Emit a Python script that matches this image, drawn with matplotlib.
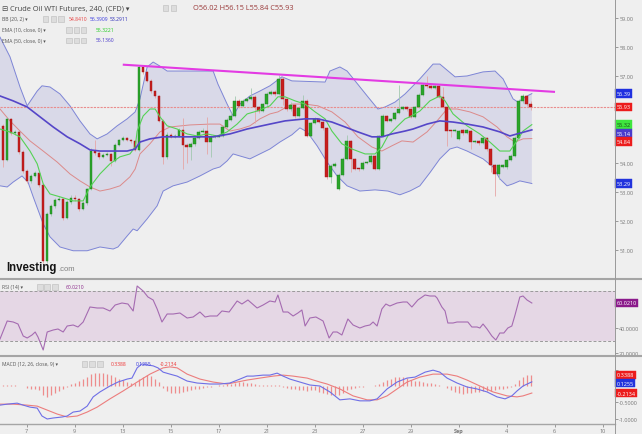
import numpy as np
import matplotlib
matplotlib.use("Agg")
import matplotlib.pyplot as plt
from matplotlib.patches import Rectangle
from matplotlib.lines import Line2D
from matplotlib import transforms

plt.rcParams['font.family'] = ['Open Sans', 'DejaVu Sans']

W, H = 642, 435

# ---- 240 min candles ----
opens = [55.28, 54.10, 55.52, 55.03, 55.07, 54.38, 53.72, 53.38, 53.55, 53.66,
         53.24, 50.62, 52.24, 52.52, 52.72, 52.76, 52.10, 52.66, 52.79, 52.76,
         52.41, 52.62, 53.10, 54.41, 54.34, 54.21, 54.28, 54.31, 54.07, 54.62,
         54.79, 54.86, 54.79, 54.76, 54.45, 57.31, 57.14, 56.83, 56.48, 56.31,
         55.45, 54.21, 54.97, 54.90, 54.93, 55.14, 54.62, 54.55, 54.66, 54.86,
         55.07, 55.10, 54.72, 54.90, 54.90, 54.93, 55.24, 55.48, 55.62, 56.14,
         55.97, 56.14, 56.21, 56.28, 55.93, 55.79, 56.03, 56.38, 56.45, 56.38,
         56.90, 56.21, 55.86, 56.00, 55.62, 55.90, 56.14, 54.93, 55.38, 55.52,
         55.41, 55.21, 53.52, 53.90, 53.10, 53.59, 54.14, 54.76, 54.14, 53.79,
         53.79, 54.00, 54.03, 54.24, 53.79, 54.93, 55.62, 55.45, 55.52, 55.72,
         55.86, 55.93, 55.86, 55.59, 55.93, 56.35, 56.69, 56.66, 56.59, 56.66,
         56.28, 55.93, 55.10, 55.09, 54.83, 55.14, 55.03, 55.10, 54.72, 54.76,
         54.69, 54.86, 54.48, 53.93, 53.62, 53.86, 53.86, 54.10, 54.24, 54.86,
         56.14, 56.31, 56.02]
closes = [54.10, 55.52, 55.03, 55.07, 54.38, 53.72, 53.38, 53.55, 53.66, 53.24,
          50.62, 52.24, 52.52, 52.72, 52.76, 52.10, 52.66, 52.79, 52.76, 52.41,
          52.62, 53.10, 54.41, 54.34, 54.21, 54.28, 54.31, 54.07, 54.62, 54.79,
          54.86, 54.79, 54.76, 54.45, 57.31, 57.14, 56.83, 56.48, 56.31, 55.45,
          54.21, 54.97, 54.90, 54.93, 55.14, 54.62, 54.55, 54.66, 54.86, 55.07,
          55.10, 54.72, 54.90, 54.92, 54.93, 55.24, 55.48, 55.62, 56.14, 55.97,
          56.14, 56.21, 56.28, 55.93, 55.79, 56.03, 56.38, 56.45, 56.38, 56.90,
          56.21, 55.86, 56.00, 55.62, 55.90, 56.14, 54.93, 55.38, 55.52, 55.41,
          55.21, 53.52, 53.90, 53.97, 53.59, 54.14, 54.76, 54.14, 53.79, 53.78,
          54.00, 54.03, 54.24, 53.79, 54.93, 55.62, 55.45, 55.52, 55.72, 55.86,
          55.93, 55.86, 55.59, 55.93, 56.35, 56.69, 56.66, 56.59, 56.66, 56.28,
          55.93, 55.10, 55.09, 55.14, 55.10, 55.03, 55.14, 54.72, 54.76, 54.69,
          54.86, 54.48, 53.93, 53.62, 53.93, 53.93, 54.10, 54.24, 54.86, 56.14,
          56.31, 56.02, 55.93]
highs = [55.35, 55.60, 55.55, 55.15, 55.10, 54.45, 53.78, 53.62, 53.72, 53.70,
         53.30, 52.30, 52.58, 52.80, 52.85, 52.80, 52.72, 52.90, 52.88, 52.80,
         52.68, 53.15, 54.50, 54.80, 54.40, 54.33, 54.36, 54.35, 54.68, 54.84,
         54.92, 54.90, 54.84, 54.80, 57.38, 57.36, 57.18, 56.88, 56.52, 56.36,
         55.50, 55.05, 55.02, 55.00, 55.22, 55.55, 54.68, 54.72, 54.92, 55.12,
         55.20, 55.60, 54.95, 54.95, 54.98, 55.30, 55.55, 55.75, 56.30, 56.20,
         56.20, 56.26, 56.60, 56.35, 55.98, 56.08, 56.44, 56.52, 56.52, 57.03,
         56.95, 56.25, 56.10, 56.05, 55.95, 56.35, 56.20, 55.42, 55.58, 55.55,
         55.45, 55.25, 53.95, 54.02, 53.64, 54.20, 54.95, 54.80, 54.18, 53.84,
         54.05, 54.08, 54.30, 54.28, 54.98, 55.68, 55.66, 55.56, 55.76, 56.70,
         55.98, 55.98, 55.90, 55.98, 56.40, 56.76, 57.00, 56.70, 56.70, 56.70,
         56.62, 55.98, 55.14, 55.18, 55.15, 55.18, 55.18, 55.14, 54.80, 54.80,
         54.92, 54.90, 54.52, 53.98, 53.98, 53.98, 54.15, 54.30, 54.92, 56.20,
         56.38, 56.33, 56.15]
lows = [53.86, 54.05, 54.95, 54.98, 54.30, 53.65, 53.30, 53.30, 53.50, 53.18,
        50.55, 50.55, 52.18, 52.45, 52.68, 52.03, 52.05, 52.60, 52.70, 52.35,
        52.36, 52.55, 53.05, 54.28, 54.15, 54.17, 54.25, 53.90, 54.02, 54.58,
        54.76, 54.74, 54.70, 54.40, 54.40, 57.08, 56.78, 56.42, 56.25, 55.40,
        53.95, 54.15, 54.85, 54.86, 54.88, 53.79, 54.00, 54.10, 54.60, 54.82,
        55.02, 54.31, 54.20, 54.86, 54.88, 54.90, 55.20, 55.45, 55.58, 55.90,
        55.92, 56.10, 56.18, 55.38, 55.72, 55.75, 55.98, 56.33, 56.32, 56.34,
        56.00, 55.80, 55.80, 55.55, 55.57, 55.85, 54.88, 54.88, 55.33, 55.36,
        55.15, 53.45, 53.30, 53.85, 53.05, 53.55, 54.10, 53.70, 53.74, 53.72,
        53.75, 53.98, 53.98, 53.75, 53.74, 54.88, 55.40, 55.42, 55.48, 55.68,
        55.82, 55.80, 55.55, 55.55, 55.88, 56.30, 56.60, 56.55, 56.55, 56.24,
        55.88, 54.59, 54.90, 55.05, 54.78, 54.98, 55.00, 54.48, 54.70, 54.62,
        54.64, 54.42, 53.70, 52.86, 53.45, 53.82, 53.80, 54.05, 54.20, 54.80,
        56.08, 55.98, 55.84]

# ---- indicator lines, read at bar positions ----
bbu_pos = [-0.7, 1.8, 4.3, 6.1, 8.6, 9.8, 11.8, 14.3, 16.8, 19.3,
           21.8, 23.6, 26.1, 28.6, 31.1, 33.1, 34.3, 36.1, 37.6, 39.3,
           41.1, 44.3, 52.6, 53.8, 56.1, 57.6, 59.3, 61.8, 64.3, 66.8,
           69.8, 72.3, 80.6, 81.8, 84.3, 86.1, 88.1, 91.3, 93.8, 95.6,
           98.1, 100.6, 104.3, 107.6, 109.3, 113.1, 116.1, 120.1, 123.1, 125.1,
           127.6, 128.8, 131.1, 132.3]
bbu_val = [58.34, 57.66, 56.62, 55.97, 56.48, 56.66, 56.62, 56.38, 55.97, 55.45,
           55.00, 54.83, 55.00, 55.28, 55.52, 55.76, 56.21, 57.31, 57.48, 57.34,
           57.17, 57.17, 57.17, 56.72, 56.03, 55.62, 56.03, 56.31, 56.48, 56.66,
           56.97, 56.83, 56.79, 57.17, 57.31, 57.17, 56.83, 56.28, 55.86, 55.93,
           56.10, 56.38, 56.90, 57.41, 57.41, 56.97, 57.00, 57.14, 57.17, 56.90,
           56.21, 56.10, 56.31, 56.39]
bbl_pos = [-0.7, 1.1, 2.6, 4.8, 6.3, 7.6, 10.1, 11.8, 14.3, 17.6,
           21.1, 24.3, 27.6, 28.8, 31.1, 32.6, 33.6, 36.1, 38.6, 40.1,
           42.6, 46.1, 49.3, 52.6, 54.3, 56.1, 57.6, 59.3, 61.8, 64.3,
           66.8, 69.3, 72.3, 74.3, 76.1, 78.6, 81.1, 83.6, 86.1, 89.3,
           93.1, 96.3, 99.3, 101.8, 104.3, 106.8, 109.3, 111.8, 113.6, 116.1,
           120.1, 122.6, 124.3, 126.1, 127.6, 129.3, 132.3]
bbl_val = [53.21, 53.17, 53.34, 53.55, 53.34, 52.83, 51.90, 51.45, 51.10, 50.97,
           50.97, 51.10, 51.03, 51.10, 51.48, 51.72, 51.66, 52.07, 52.52, 53.03,
           53.21, 53.34, 53.55, 53.79, 53.86, 54.07, 54.31, 54.24, 54.14, 54.31,
           54.48, 54.72, 54.97, 55.21, 55.07, 54.59, 54.03, 53.55, 53.21, 53.03,
           53.07, 53.03, 52.90, 53.03, 53.21, 53.66, 54.14, 54.48, 54.55, 54.41,
           54.14, 53.86, 53.45, 53.21, 53.28, 53.38, 53.29]
bbm_pos = [-0.7, 1.8, 4.3, 6.8, 10.1, 13.6, 16.8, 19.3, 21.8, 24.3,
           26.8, 29.3, 31.8, 33.1, 34.3, 36.8, 39.3, 41.8, 46.8, 51.8,
           54.3, 56.8, 59.3, 61.8, 64.3, 66.8, 68.8, 72.3, 75.6, 78.8,
           82.3, 85.6, 88.8, 92.3, 94.8, 97.3, 99.8, 102.6, 106.1, 108.6,
           111.1, 113.6, 116.8, 120.1, 123.6, 126.1, 128.1, 130.1, 132.3]
bbm_val = [55.86, 55.45, 55.10, 54.76, 54.41, 54.03, 53.62, 53.38, 53.17, 53.03,
           53.10, 53.21, 53.52, 53.79, 54.31, 54.66, 55.07, 55.24, 55.31, 55.34,
           55.34, 55.10, 55.17, 55.28, 55.52, 55.69, 55.76, 56.03, 56.03, 55.97,
           55.76, 55.41, 54.90, 54.55, 54.41, 54.59, 54.76, 54.72, 55.07, 55.45,
           55.86, 55.86, 55.76, 55.59, 55.24, 54.90, 54.72, 54.83, 54.84]
ema10_pos = [-0.7, 1.8, 4.3, 6.8, 8.6, 10.1, 11.8, 14.3, 17.6, 20.1,
             21.8, 24.3, 26.8, 29.3, 31.8, 33.1, 33.6, 35.1, 36.8, 38.1,
             39.3, 41.1, 43.6, 46.1, 48.6, 51.1, 53.6, 56.1, 58.6, 61.1,
             63.6, 66.8, 68.8, 70.6, 73.1, 75.6, 78.1, 80.6, 82.3, 84.8,
             87.3, 90.6, 93.1, 94.8, 96.3, 98.8, 100.6, 101.8, 104.3, 106.8,
             109.3, 110.6, 112.6, 116.1, 119.3, 121.8, 124.3, 126.8, 128.6, 130.1,
             132.3]
ema10_val = [55.17, 55.07, 54.90, 54.41, 53.97, 53.28, 52.93, 52.83, 52.69, 52.69,
             53.17, 53.62, 53.97, 54.21, 54.31, 54.55, 55.10, 55.62, 55.86, 55.86,
             55.59, 55.28, 55.17, 55.00, 54.93, 55.00, 54.93, 55.07, 55.34, 55.69,
             55.79, 55.97, 56.28, 56.28, 56.14, 56.03, 55.76, 55.52, 55.10, 54.66,
             54.48, 54.31, 54.31, 54.55, 54.93, 55.28, 55.52, 55.59, 55.79, 56.14,
             56.31, 56.14, 55.69, 55.28, 55.00, 54.72, 54.41, 54.41, 54.76, 55.10,
             55.32]
ema50_pos = [-0.7, 2.6, 6.1, 9.3, 12.6, 16.1, 19.3, 21.8, 24.3, 27.6,
             31.1, 33.1, 34.3, 36.8, 40.1, 44.3, 52.6, 56.8, 61.1, 66.8,
             70.6, 75.6, 78.8, 82.3, 85.6, 88.8, 92.3, 94.8, 97.3, 100.6,
             102.6, 106.1, 109.3, 112.6, 116.1, 120.1, 124.3, 126.8, 128.6, 132.3]
ema50_val = [56.31, 56.14, 55.93, 55.59, 55.24, 54.90, 54.66, 54.45, 54.41, 54.41,
             54.41, 54.48, 54.72, 54.83, 54.90, 54.90, 54.90, 55.00, 55.17, 55.34,
             55.45, 55.52, 55.52, 55.41, 55.24, 55.07, 54.90, 54.90, 55.00, 55.10,
             55.17, 55.34, 55.45, 55.41, 55.34, 55.24, 55.07, 54.93, 55.00, 55.14]
trend_pos = [30.0, 138.1]
trend_val = [57.39, 56.45]

rsi_pos = [-0.7, 1.1, 2.6, 3.8, 5.1, 6.1, 7.3, 8.1, 8.8, 10.1,
           11.1, 12.6, 13.8, 15.1, 16.1, 17.6, 18.8, 20.1, 21.8, 23.6,
           25.1, 26.8, 28.1, 29.8, 31.3, 32.6, 33.6, 35.1, 36.3, 37.6,
           38.6, 39.8, 41.1, 42.6, 44.3, 46.1, 47.6, 49.3, 50.6, 51.8,
           53.6, 54.8, 56.6, 58.6, 59.8, 61.3, 63.6, 65.1, 66.8, 68.1,
           68.8, 70.1, 71.3, 72.6, 73.8, 74.8, 75.6, 76.8, 78.3, 80.1,
           81.6, 82.6, 83.6, 84.8, 86.3, 87.6, 89.3, 90.6, 91.8, 92.6,
           93.6, 94.8, 95.8, 96.8, 98.6, 100.1, 101.1, 102.3, 103.8, 105.6,
           106.8, 108.1, 108.6, 109.8, 110.6, 111.3, 112.6, 113.6, 115.1, 116.3,
           117.3, 118.6, 119.3, 120.1, 121.1, 122.3, 123.3, 124.3, 125.3, 126.3,
           127.3, 128.1, 129.3, 130.1, 131.1, 132.3]
rsi_val = [31.2, 45.6, 44.8, 43.2, 33.6, 32.0, 34.4, 36.8, 32.8, 22.4,
           36.8, 38.4, 39.2, 36.8, 41.6, 42.4, 40.8, 44.8, 56.8, 56.0,
           56.0, 53.6, 58.4, 60.0, 59.2, 53.6, 73.6, 69.6, 64.8, 62.4,
           55.2, 44.8, 51.2, 51.2, 52.0, 48.0, 48.8, 52.8, 48.8, 49.6,
           49.6, 53.6, 52.8, 61.6, 59.2, 62.4, 56.0, 58.4, 61.6, 60.8,
           66.4, 52.8, 52.8, 49.6, 52.0, 54.4, 41.6, 48.0, 48.8, 45.6,
           32.0, 36.8, 36.8, 34.4, 47.2, 42.4, 40.0, 41.6, 42.4, 44.8,
           41.6, 55.2, 59.2, 57.6, 60.0, 60.8, 60.8, 56.8, 62.4, 66.4,
           65.6, 65.6, 64.0, 56.8, 53.6, 44.0, 44.0, 44.8, 44.8, 44.8,
           40.8, 40.8, 40.0, 43.2, 39.2, 33.6, 30.4, 36.0, 36.0, 40.0,
           41.6, 50.4, 64.8, 65.6, 62.4, 60.0]

macd_pos = [-0.7, 1.1, 3.6, 5.1, 6.8, 8.6, 9.8, 11.1, 12.6, 14.8,
            16.1, 17.6, 19.3, 21.1, 22.6, 24.3, 26.8, 28.8, 31.1, 32.3,
            33.6, 34.8, 36.1, 37.6, 38.8, 40.1, 41.8, 43.6, 46.1, 48.6,
            51.8, 54.3, 56.8, 59.3, 61.1, 62.6, 65.1, 66.8, 68.6, 70.1,
            71.8, 74.3, 76.8, 79.3, 81.8, 84.3, 86.8, 89.3, 91.8, 93.6,
            96.1, 98.6, 101.1, 103.1, 105.6, 107.6, 109.3, 111.1, 113.6, 116.1,
            118.6, 121.1, 123.6, 125.6, 127.3, 128.6, 130.1, 132.3]
macd_val = [-0.58, -0.55, -0.52, -0.58, -0.64, -0.67, -0.91, -1.00, -0.97, -0.94,
            -0.91, -0.79, -0.76, -0.61, -0.33, -0.18, 0.00, 0.12, 0.21, 0.24,
            0.55, 0.67, 0.64, 0.61, 0.55, 0.42, 0.36, 0.30, 0.15, 0.09,
            0.06, 0.06, 0.09, 0.21, 0.30, 0.30, 0.33, 0.33, 0.39, 0.30,
            0.21, 0.12, 0.03, 0.00, -0.18, -0.42, -0.39, -0.45, -0.45, -0.39,
            -0.09, 0.12, 0.24, 0.27, 0.42, 0.48, 0.42, 0.24, 0.09, -0.03,
            -0.09, -0.18, -0.33, -0.39, -0.30, -0.15, 0.00, 0.1255]
sig_pos = [-0.7, 2.6, 6.1, 8.6, 11.1, 13.6, 16.1, 18.6, 21.1, 23.6,
           26.8, 30.1, 33.6, 36.8, 40.1, 41.8, 43.6, 46.1, 49.3, 52.6,
           56.1, 58.6, 61.1, 64.3, 67.6, 70.1, 72.6, 76.1, 79.3, 81.1,
           84.3, 87.6, 91.1, 93.6, 96.1, 98.6, 101.1, 104.3, 107.6, 111.1,
           113.6, 116.1, 119.3, 122.6, 126.1, 128.6, 130.1, 132.3]
sig_val = [-0.55, -0.55, -0.58, -0.61, -0.73, -0.85, -0.94, -0.91, -0.79, -0.64,
           -0.39, -0.15, 0.12, 0.36, 0.55, 0.58, 0.55, 0.36, 0.21, 0.12,
           0.06, 0.12, 0.18, 0.24, 0.30, 0.33, 0.30, 0.24, 0.12, 0.06,
           -0.09, -0.30, -0.42, -0.42, -0.30, -0.09, 0.12, 0.27, 0.36, 0.36,
           0.30, 0.18, 0.00, -0.18, -0.30, -0.33, -0.30, -0.2134]
hist = [0.02, 0.02, 0.02, 0.02, 0.01, 0.00, -0.05, -0.08, -0.10, -0.12,
        -0.28, -0.33, -0.28, -0.20, -0.14, -0.08, -0.03, 0.05, 0.10, 0.15,
        0.20, 0.27, 0.35, 0.38, 0.40, 0.38, 0.36, 0.32, 0.28, 0.22,
        0.18, 0.12, 0.10, 0.08, 0.20, 0.28, 0.34, 0.30, 0.22, 0.12,
        -0.05, -0.15, -0.22, -0.22, -0.20, -0.18, -0.16, -0.13, -0.10, -0.08,
        -0.05, -0.04, -0.02, 0.01, 0.02, 0.03, 0.05, 0.07, 0.10, 0.12,
        0.12, 0.10, 0.08, 0.06, 0.04, 0.03, 0.03, 0.03, 0.02, 0.03,
        -0.04, -0.06, -0.08, -0.10, -0.12, -0.12, -0.14, -0.12, -0.12, -0.18,
        -0.20, -0.25, -0.28, -0.28, -0.26, -0.20, -0.12, -0.08, -0.05, -0.04,
        -0.02, -0.01, 0.01, 0.02, 0.05, 0.12, 0.18, 0.22, 0.26, 0.28,
        0.27, 0.24, 0.18, 0.15, 0.14, 0.12, 0.10, 0.08, 0.05, 0.03,
        0.00, -0.06, -0.12, -0.18, -0.22, -0.24, -0.22, -0.20, -0.18, -0.17,
        -0.16, -0.15, -0.14, -0.12, -0.10, -0.08, -0.06, -0.02, 0.05, 0.18,
        0.28, 0.32, 0.3388]

# legend readouts
bb_last = [54.8410, 56.3909, 53.2911]
ema10_last = 55.3221
ema50_last = 55.1360
rsi_last = 60.0210
macd_last = [0.3388, 0.1255, -0.2134]

date_pos = [6, 18, 30, 42, 54, 66, 78, 90, 102, 114, 126, 138, 150]
date_labels = ['7', '9', '13', '15', '17', '21', '23', '27', '29', 'Sep', '4', '6', '10']


def fx(x):
    return x / W


def fy(y):
    return 1 - y / H


bg = '#efefef'
fig = plt.figure(figsize=(W / 100, H / 100), dpi=100)
fig.patch.set_facecolor(bg)

ax = fig.add_axes([0, fy(279), fx(615), 279 / H])
ax_rsi = fig.add_axes([0, fy(356), fx(615), (356 - 281) / H])
ax_macd = fig.add_axes([0, fy(425), fx(615), (425 - 358) / H])

for a in (ax, ax_rsi, ax_macd):
    a.set_facecolor(bg)
    for s in a.spines.values():
        s.set_visible(False)
    a.set_xlim(-0.7, 153.1)
    a.yaxis.tick_right()
    a.tick_params(axis='y', labelsize=4, colors='#777777', length=2, width=0.5, pad=1)
    a.set_xticks([])

# ---- main price panel ----
ax.set_ylim(50.03, 59.655)

ax.fill(np.r_[bbu_pos, bbl_pos[::-1]], np.r_[bbu_val, bbl_val[::-1]],
        color='#d9d9e8', lw=0, zorder=1)
ax.plot(bbu_pos, bbu_val, color='#7d85d6', lw=0.7, zorder=2)
ax.plot(bbl_pos, bbl_val, color='#7d85d6', lw=0.7, zorder=2)
ax.plot(bbm_pos, bbm_val, color='#dc8a8a', lw=0.7, zorder=2)
ax.axhline(closes[-1], color='#ea8c8c', lw=0.8, ls=(0, (2, 1)), zorder=2)

o = np.array(opens)
c = np.array(closes)
idx = np.arange(len(c))
up = c >= o
ax.vlines(idx, lows, highs, colors=np.where(up, '#a3c8b0', '#e6a6a6'), lw=0.6, zorder=3)
ax.bar(idx, np.maximum(np.abs(c - o), 0.03), bottom=np.minimum(o, c), width=0.62,
       color=np.where(up, '#2aa52a', '#c81e1e'), edgecolor=np.where(up, '#1c7f1c', '#9c1414'),
       linewidth=0.3, zorder=4)

ax.plot(ema10_pos, ema10_val, color='#55d255', lw=0.8, zorder=5)
ax.plot(ema50_pos, ema50_val, color='#5546c8', lw=1.2, zorder=5)
ax.plot(trend_pos, trend_val, color='#e33be3', lw=1.5, zorder=6, solid_capstyle='butt')

# ---- RSI ----
ax_rsi.set_ylim(18.4, 78.4)
ax_rsi.axhspan(30, 70, color='#e5d7e5', lw=0, zorder=0)
for lvl in (30, 70):
    ax_rsi.axhline(lvl, color='#9a9a9a', lw=0.7, ls=(0, (3, 2)), zorder=1)
ax_rsi.plot(rsi_pos, rsi_val, color='#a56bb1', lw=0.8, zorder=3)

# ---- MACD ----
ax_macd.set_ylim(-1.152, 0.879)
ax_macd.vlines(idx, 0, hist, colors='#ee8c8c', lw=0.9, zorder=2)
ax_macd.plot(sig_pos, sig_val, color='#ec7d7d', lw=0.8, zorder=3)
ax_macd.plot(macd_pos, macd_val, color='#6e6ee6', lw=0.8, zorder=3)
ax_macd.set_xticks(date_pos)
ax_macd.set_xticklabels(date_labels)
ax_macd.tick_params(axis='x', labelsize=4, colors='#777777', length=2, width=0.5, pad=1)
for t in ax_macd.get_xticklabels():
    if t.get_text() == 'Sep':
        t.set_fontweight('bold')

# panel frame lines
fig.add_artist(Line2D([0, 1], [fy(280), fy(280)], color='#a5a5a5', lw=1.5))
fig.add_artist(Line2D([0, 1], [fy(357), fy(357)], color='#a5a5a5', lw=1.5))
fig.add_artist(Line2D([0, fx(615)], [fy(425), fy(425)], color='#a5a5a5', lw=1.0))
fig.add_artist(Line2D([fx(615), fx(615)], [0, 1], color='#999999', lw=0.7))


# price tags on the right axis, pushed down so they don't overlap
def tags(a, items, gap=8.5):
    tr = transforms.blended_transform_factory(fig.transFigure, a.transData)
    last = None
    placed = []
    for v, txt, fc, tc in sorted(items, key=lambda t: -t[0]):
        ypx = a.transData.transform((0, v))[1]
        if last is not None and last - ypx < gap:
            ypx = last - gap
        last = ypx
        placed.append(ypx)
        yv = a.transData.inverted().transform((0, ypx))[1]
        a.text(fx(616.5), yv, txt, transform=tr, ha='left', va='center', fontsize=4,
               color=tc, zorder=10, clip_on=False,
               bbox=dict(boxstyle='square,pad=0.3', fc=fc, ec=fc, lw=0.3))
    return placed


# axis numbers; the ones sitting under a tag are hidden as in the original
def yticks(a, vals, fmt, placed, clear=7):
    a.set_yticks(vals)
    labels = []
    for v in vals:
        ypx = a.transData.transform((0, v))[1]
        hidden = any(abs(ypx - p) < clear for p in placed)
        labels.append('' if hidden else fmt % v)
    a.set_yticklabels(labels)


p_main = tags(ax, [(bb_last[1], '%.2f' % bb_last[1], '#2030e0', 'white'),
                   (closes[-1], '%.2f' % closes[-1], '#ec1c1c', 'white'),
                   (ema10_last, '%.2f' % ema10_last, '#3ee63e', '#1a4a1a'),
                   (ema50_last, '%.2f' % ema50_last, '#4a3ccc', 'white'),
                   (bb_last[0], '%.2f' % bb_last[0], '#ec1c1c', 'white'),
                   (bb_last[2], '%.2f' % bb_last[2], '#2233dd', 'white')])
p_rsi = tags(ax_rsi, [(rsi_last, '%.4f' % rsi_last, '#8b1a8b', 'white')])
p_macd = tags(ax_macd, [(macd_last[0], '%.4f' % macd_last[0], '#ec1c1c', 'white'),
                        (macd_last[1], '%.4f' % macd_last[1], '#2233dd', 'white'),
                        (macd_last[2], '%.4f' % macd_last[2], '#ec1c1c', 'white')])

yticks(ax, list(range(51, 60)), '%.2f', p_main)
yticks(ax_rsi, [20, 40, 60], '%.4f', p_rsi)
yticks(ax_macd, [-1.0, -0.5, 0.0, 0.5], '%.4f', p_macd)


# ---- header / legends ----
def icons(x0, y, n):
    for k in range(n):
        fig.add_artist(Rectangle((fx(x0 + 7.5 * k), fy(y + 3)), 5.5 / W, 5.5 / H,
                                 transform=fig.transFigure, fc='#dddddd', ec='#bbbbbb', lw=0.4))


fig.text(fx(2), fy(8.5), '\u229f Crude Oil WTI Futures, 240, (CFD) \u25be',
         fontsize=5.3, color='#444444', va='center')
icons(163, 8.5, 2)
ohlc = 'O%.2f H%.2f L%.2f C%.2f' % (opens[-1], highs[-1], lows[-1], closes[-1])
fig.text(fx(193), fy(8.5), ohlc, fontsize=5.3, color='#9a3a3a', va='center')

fig.text(fx(2), fy(19.5), 'BB (20, 2) \u25be', fontsize=3.6, color='#555555', va='center')
icons(43, 19.5, 3)
for xx, v, col in zip([69, 90, 110], bb_last, ['#e84040', '#3a3ae0', '#2a2ab8']):
    fig.text(fx(xx), fy(19.5), '%.4f' % v, fontsize=3.6, color=col, va='center')

fig.text(fx(2), fy(30.5), 'EMA (10, close, 0) \u25be', fontsize=3.6, color='#555555', va='center')
icons(66, 30.5, 3)
fig.text(fx(96), fy(30.5), '%.4f' % ema10_last, fontsize=3.6, color='#22cc22', va='center')

fig.text(fx(2), fy(41), 'EMA (50, close, 0) \u25be', fontsize=3.6, color='#555555', va='center')
icons(66, 41, 3)
fig.text(fx(96), fy(41), '%.4f' % ema50_last, fontsize=3.6, color='#4a3acc', va='center')

fig.text(fx(2), fy(287.5), 'RSI (14) \u25be', fontsize=3.6, color='#555555', va='center')
icons(37, 287.5, 3)
fig.text(fx(66), fy(287.5), '%.4f' % rsi_last, fontsize=3.6, color='#8b2a8b', va='center')

fig.text(fx(2), fy(364.5), 'MACD (12, 26, close, 9) \u25be', fontsize=3.6, color='#555555', va='center')
icons(82, 364.5, 3)
for xx, v, col in zip([111, 136, 160], macd_last, ['#ee3333', '#3333dd', '#ee3333']):
    fig.text(fx(xx), fy(364.5), '%.4f' % v, fontsize=3.6, color=col, va='center')

fig.text(fx(6), fy(271), 'Investing', fontsize=8.3, fontweight='bold', family='Liberation Sans',
         color='#151515', va='baseline')
fig.text(fx(58), fy(271), '.com', fontsize=5.5, family='Liberation Sans', color='#808080', va='baseline')

fig.savefig('out.png', dpi=100, facecolor=bg)
